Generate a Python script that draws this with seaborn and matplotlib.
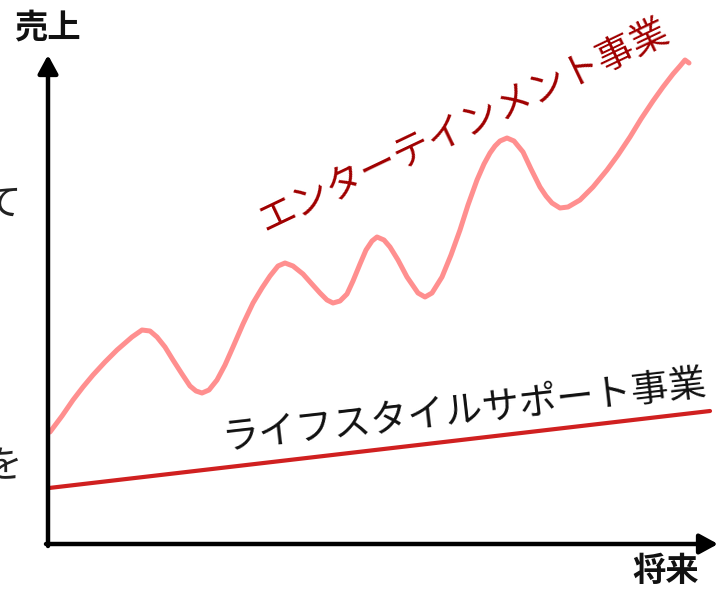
import seaborn as sns
import matplotlib.pyplot as plt

# pink wavy line: entertainment business (x = time, y = sales)
ent_x = [2, 14, 25, 35, 45, 57, 69, 84, 94, 102, 109, 117, 125, 134, 142, 148, 154, 161,
         169, 177, 185, 195, 205, 214, 222, 230, 237, 245, 255, 263, 272, 279, 285, 292,
         299, 305, 312, 318, 324, 329, 336, 342, 350, 359, 370, 377, 384, 394, 403, 412,
         420, 429, 436, 442, 447, 452, 459, 466, 475, 483, 492, 498, 504, 512, 520, 532,
         545, 559, 570, 582, 593, 605, 615, 625, 632, 637, 641]
ent_y = [112, 128, 144, 157, 169, 182, 194, 207, 214, 213, 207, 197, 184, 170, 158, 153,
         151, 154, 164, 179, 197, 220, 241, 256, 268, 278, 281, 278, 270, 261, 251, 244,
         241, 243, 250, 263, 280, 294, 303, 307, 304, 297, 284, 267, 251, 247, 251, 267,
         289, 314, 339, 364, 380, 391, 398, 403, 406, 403, 392, 375, 357, 348, 341, 336,
         337, 344, 357, 374, 389, 407, 425, 443, 457, 470, 478, 484, 481]

# straight red line: lifestyle support business
life_x = [1, 662]
life_y = [56, 133]

sns.set_theme(style='white')
plt.rcParams['font.family'] = ['Noto Sans CJK JP', 'DejaVu Sans']

fig = plt.figure(figsize=(7.19, 5.94), dpi=100)
ax = fig.add_axes([48 / 719, 50 / 594, 671 / 719, 494 / 594])
ax.set_xlim(0, 671)
ax.set_ylim(0, 494)
ax.axis('off')

sns.lineplot(x=ent_x, y=ent_y, ax=ax, sort=False, estimator=None,
             color='#FF8F8F', linewidth=3.6, solid_capstyle='round',
             solid_joinstyle='round')
sns.lineplot(x=life_x, y=life_y, ax=ax, sort=False, estimator=None,
             color='#D02020', linewidth=3.0)

# axes drawn as arrows
arrow = dict(arrowstyle='-|>,head_length=0.55,head_width=0.3', color='black',
             lw=3.2, mutation_scale=20, shrinkA=0, shrinkB=0)
ax.annotate('', xy=(0, 489), xytext=(0, -2), arrowprops=arrow, annotation_clip=False)
ax.annotate('', xy=(670, 0), xytext=(-2, 0), arrowprops=arrow, annotation_clip=False)

ax.text(416, 418, 'エンターテインメント事業', rotation=25.5, rotation_mode='anchor',
        ha='center', va='center', fontsize=27, color='#A00000')
ax.text(416, 133, 'ライフスタイルサポート事業', rotation=6.5, rotation_mode='anchor',
        ha='center', va='center', fontsize=27, color='#111111')

fig.text(47 / 719, 1 - 28 / 594, '売上', ha='center', va='center',
         fontsize=24, fontweight='bold', color='#111111')
fig.text(666 / 719, 1 - 571 / 594, '将来', ha='center', va='center',
         fontsize=24, fontweight='bold', color='#111111')

# text cut off at the left edge, as in the source slide
fig.text(21 / 719, 1 - 204 / 594, 'て', ha='right', va='center', fontsize=27, color='#222222')
fig.text(22 / 719, 1 - 467 / 594, 'を', ha='right', va='center', fontsize=27, color='#222222')

fig.savefig('out.png', dpi=100)
plt.close(fig)
